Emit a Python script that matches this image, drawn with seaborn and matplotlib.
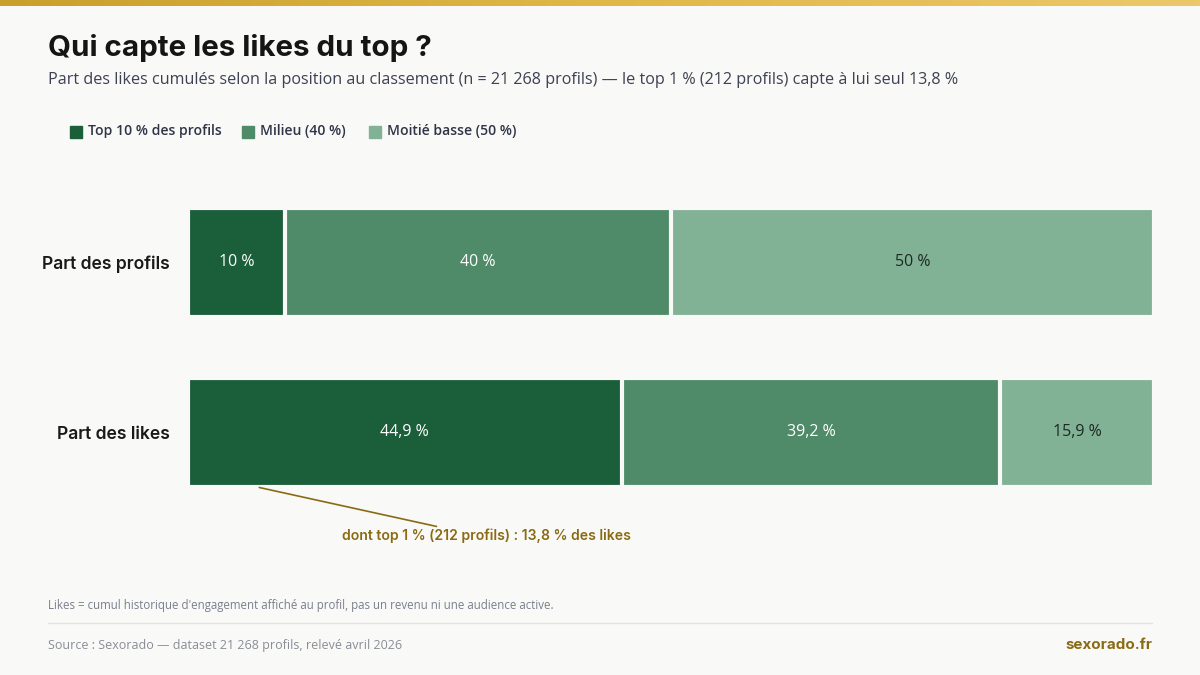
import numpy as np
import pandas as pd
import seaborn as sns
import matplotlib.pyplot as plt
from matplotlib.patches import Rectangle
from matplotlib.lines import Line2D

#### 100% stacked bars: share of profiles vs share of likes

rows = ['Part des profils', 'Part des likes']
top10 = [10.0, 44.9]
milieu = [40.0, 39.2]
bas = [50.0, 15.9]
segment_names = ['Top 10 % des profils', 'Milieu (40 %)', 'Moitié basse (50 %)']
top1_likes = 13.8

bg = '#f9f9f7'
greens = ['#1b5e3a', '#4f8b69', '#82b295']
gold = '#8a6a12'

sns.set_theme(style='white')
plt.rcParams['font.family'] = ['Open Sans', 'DejaVu Sans']

df = pd.DataFrame({'row': rows, 'top10': top10, 'milieu': milieu, 'bas': bas})
df['c1'] = df['top10']
df['c2'] = df['c1'] + df['milieu']
df['c3'] = df['c2'] + df['bas']

fig = plt.figure(figsize=(12, 6.75), dpi=100)
fig.patch.set_facecolor(bg)

# gold band on top
band = fig.add_axes([0, 1 - 6 / 675, 1, 6 / 675])
band.imshow(np.linspace(0, 1, 256).reshape(1, -1), aspect='auto',
            cmap=sns.blend_palette(['#c9a02c', '#e0b848', '#ebc86a'], as_cmap=True))
band.set_axis_off()

# axes a bit wider than the bars, the bg edge eats ~2px per side
ax = fig.add_axes([188 / 1200, 1 - 517.5 / 675, 966 / 1200, 340 / 675])
ax.set_facecolor(bg)

# overlay cumulative bars, widest first
for col, c in zip(['c3', 'c2', 'c1'], greens[::-1]):
    sns.barplot(data=df, x=col, y='row', orient='h', color=c, width=0.643,
                edgecolor=bg, linewidth=3, saturation=1, ax=ax)

ax.set_xlim(0, 100)
ax.set_ylim(1.5, -0.5)
ax.set_xlabel('')
ax.set_ylabel('')
ax.set_xticks([])
sns.despine(ax=ax, left=True, bottom=True)
ax.tick_params(axis='y', length=0, pad=13)
for lab in ax.get_yticklabels():
    lab.set_fontfamily(['Inter', 'DejaVu Sans'])
    lab.set_fontweight('semibold')
    lab.set_fontsize(12.6)
    lab.set_color('#1a1a1a')

# segment labels
for i, r in df.iterrows():
    lefts = [0, r['c1'], r['c2']]
    widths = [r['top10'], r['milieu'], r['bas']]
    for j, (l, w) in enumerate(zip(lefts, widths)):
        txt = f'{w:.1f}'.replace('.', ',').replace(',0', '') + ' %'
        ax.text(l + w / 2, i, txt, ha='center', va='center', fontsize=11.5,
                fontweight='medium', color='white' if j < 2 else '#1c2a22')

# top 1 % annotation
ax.annotate('', xy=(top1_likes / 2 + 0.2, 1.32), xytext=(26.0, 1.556),
            arrowprops=dict(arrowstyle='-', color=gold, lw=1.2),
            annotation_clip=False)
ax.text(30.9, 1.61, 'dont top 1 % (212 profils) : 13,8 % des likes',
        ha='center', va='center', fontsize=10.1, fontweight='semibold',
        color=gold, family=['Inter', 'DejaVu Sans'], clip_on=False)

# titles
fig.text(48 / 1200, 1 - 48 / 675, 'Qui capte les likes du top ?', ha='left', va='center',
         fontsize=21.3, fontweight='bold', color='#151515', family=['Inter', 'DejaVu Sans'])
fig.text(48 / 1200, 1 - 80 / 675,
         'Part des likes cumulés selon la position au classement (n = 21 268 profils) '
         '— le top 1 % (212 profils) capte à lui seul 13,8 %',
         ha='left', va='center', fontsize=11.65, color='#3d4152')

# legend
lx = [70, 242, 369]
for x0, name, c in zip(lx, segment_names, greens):
    fig.patches.append(Rectangle((x0 / 1200, 1 - 137.5 / 675), 12 / 1200, 12 / 675,
                                 transform=fig.transFigure, color=c))
    fig.text((x0 + 18) / 1200, 1 - 131 / 675, name, ha='left', va='center',
             fontsize=10.05, fontweight='semibold', color='#2f3446')

# footer
fig.text(48 / 1200, 1 - 606 / 675,
         "Likes = cumul historique d'engagement affiché au profil, pas un revenu ni une audience active.",
         ha='left', va='center', fontsize=8.3, color='#7a7f8e')
fig.lines.append(Line2D([48 / 1200, 1152 / 1200], [1 - 623 / 675, 1 - 623 / 675],
                        transform=fig.transFigure, color='#e2e2e0', lw=1))
fig.text(48 / 1200, 1 - 645 / 675, 'Source : Sexorado — dataset 21 268 profils, relevé avril 2026',
         ha='left', va='center', fontsize=9, color='#8a8d96')
fig.text(1152 / 1200, 1 - 645 / 675, 'sexorado.fr', ha='right', va='center',
         fontsize=10.9, fontweight='bold', color=gold, family=['Inter', 'DejaVu Sans'])

plt.savefig('out.png', dpi=100, facecolor=bg)
print('fin')
